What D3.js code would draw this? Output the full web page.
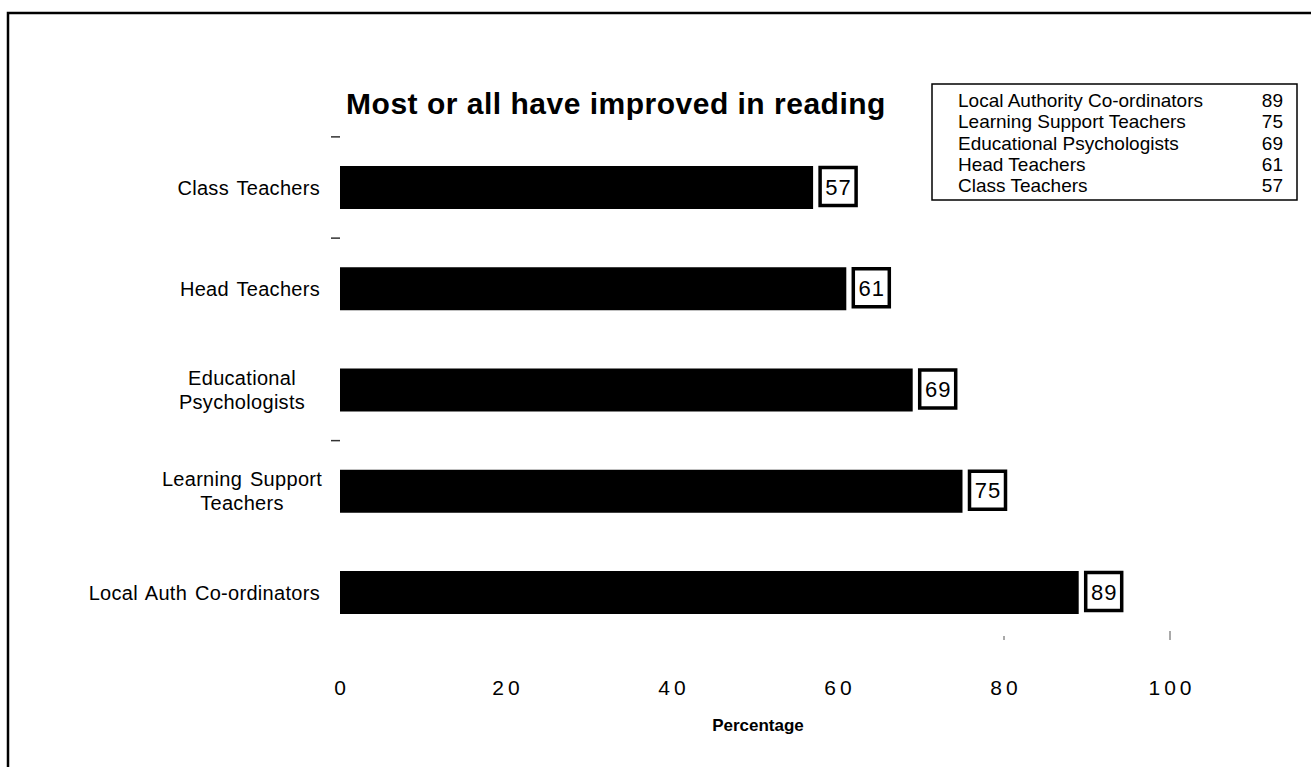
<!DOCTYPE html>
<html>
<head>
<meta charset="utf-8">
<script src="https://cdn.jsdelivr.net/npm/d3@7"></script>
<style>
  body { margin: 0; background: #fff; }
  svg text { font-family: "Liberation Sans", Arial, sans-serif; fill: #000; }
</style>
</head>
<body>
<div id="canvas"></div>
<script>
// chart data
var categories = ["Class Teachers", "Head Teachers", "Educational Psychologists", "Learning Support Teachers", "Local Auth Co-ordinators"];
var categoryLines = [["Class Teachers"], ["Head Teachers"], ["Educational", "Psychologists"], ["Learning Support", "Teachers"], ["Local Auth Co-ordinators"]];
var values = [57, 61, 69, 75, 89];
var legendNames = ["Local Authority Co-ordinators", "Learning Support Teachers", "Educational Psychologists", "Head Teachers", "Class Teachers"];
var legendValues = [89, 75, 69, 61, 57];
var tickValues = [0, 20, 40, 60, 80, 100];

var width = 1311,
    height = 767,
    barHeight = 43;

var svg = d3.select("#canvas")
    .append("svg")
    .attr("width", width)
    .attr("height", height);

// frame (top and left edges only)
svg.append("path")
    .attr("d", "M8," + height + "V13H" + width)
    .style("fill", "none")
    .style("stroke", "#000")
    .style("stroke-width", 2.5);

var x = d3.scaleLinear().domain([0, 100]).range([340, 1170]);
var y = d3.scalePoint().domain(categories).range([187.5, 592.5]);

// title
svg.append("text")
    .attr("x", 616)
    .attr("y", 114)
    .attr("text-anchor", "middle")
    .style("font-size", "30px")
    .style("font-weight", "bold")
    .style("letter-spacing", "0.5px")
    .text("Most or all have improved in reading");

// bars
svg.selectAll("rect.bar")
    .data(values)
    .enter()
    .append("rect")
    .attr("class", "bar")
    .attr("x", x(0))
    .attr("y", function(d, i) { return y(categories[i]) - barHeight / 2; })
    .attr("width", function(d) { return x(d) - x(0); })
    .attr("height", barHeight)
    .style("fill", "#000");

// value boxes
var boxes = svg.selectAll("g.val")
    .data(values)
    .enter()
    .append("g")
    .attr("class", "val")
    .attr("transform", function(d, i) {
        return "translate(" + (x(d) + 7) + "," + (y(categories[i]) - 20) + ")";
    });

boxes.append("rect")
    .attr("width", 36)
    .attr("height", 38)
    .style("fill", "#fff")
    .style("stroke", "#000")
    .style("stroke-width", 3.5);

boxes.append("text")
    .attr("x", 18.5)
    .attr("y", 27)
    .attr("text-anchor", "middle")
    .style("font-size", "22px")
    .style("letter-spacing", "1px")
    .text(function(d) { return d; });

// category labels: single lines end at the axis, two-line ones are centred together
categoryLines.forEach(function(lines, i) {
    var cy = y(categories[i]);
    var lineH = 24;
    var y0 = cy - (lines.length - 1) * lineH / 2 + 7;
    lines.forEach(function(t, j) {
        svg.append("text")
            .attr("x", lines.length > 1 ? 242 : 320)
            .attr("y", y0 + j * lineH)
            .attr("text-anchor", lines.length > 1 ? "middle" : "end")
            .style("font-size", "20px")
            .style("letter-spacing", "0.3px")
            .style("word-spacing", "2px")
            .text(t);
    });
});

// small dashes between categories (as in the scan)
var dashAt = [-0.5, 0.5, 2.5];
var step = y.step();
svg.selectAll("line.dash")
    .data(dashAt)
    .enter()
    .append("line")
    .attr("class", "dash")
    .attr("x1", 331)
    .attr("x2", 340)
    .attr("y1", function(d) { return y.range()[0] + d * step; })
    .attr("y2", function(d) { return y.range()[0] + d * step; })
    .style("stroke", "#333")
    .style("stroke-width", 1.5);

// x axis labels (no axis line)
svg.selectAll("text.tick")
    .data(tickValues)
    .enter()
    .append("text")
    .attr("class", "tick")
    .attr("x", function(d) { return x(d) + 2; })
    .attr("y", 695)
    .attr("text-anchor", "middle")
    .style("font-size", "21px")
    .style("letter-spacing", "4px")
    .text(function(d) { return d; });

// faint tick specks above 80 and 100
svg.selectAll("line.speck")
    .data([80, 100])
    .enter()
    .append("line")
    .attr("class", "speck")
    .attr("x1", function(d) { return x(d); })
    .attr("x2", function(d) { return x(d); })
    .attr("y1", function(d) { return d === 100 ? 631 : 636; })
    .attr("y2", 640)
    .style("stroke", "#555")
    .style("stroke-width", 1);

svg.append("text")
    .attr("x", 758)
    .attr("y", 731)
    .attr("text-anchor", "middle")
    .style("font-size", "17px")
    .style("font-weight", "bold")
    .text("Percentage");

// legend table
var legend = svg.append("g").attr("transform", "translate(932,84)");
legend.append("rect")
    .attr("width", 365)
    .attr("height", 116)
    .style("fill", "#fff")
    .style("stroke", "#000")
    .style("stroke-width", 1.5);

var rowY = d3.scalePoint().domain(legendNames).range([23, 108]);

legend.selectAll("text.name")
    .data(legendNames)
    .enter()
    .append("text")
    .attr("class", "name")
    .attr("x", 26)
    .attr("y", function(d) { return rowY(d); })
    .style("font-size", "19px")
    .text(function(d) { return d; });

legend.selectAll("text.num")
    .data(legendValues)
    .enter()
    .append("text")
    .attr("class", "num")
    .attr("x", 351)
    .attr("y", function(d, i) { return rowY(legendNames[i]); })
    .attr("text-anchor", "end")
    .style("font-size", "19px")
    .text(function(d) { return d; });
</script>
</body>
</html>
